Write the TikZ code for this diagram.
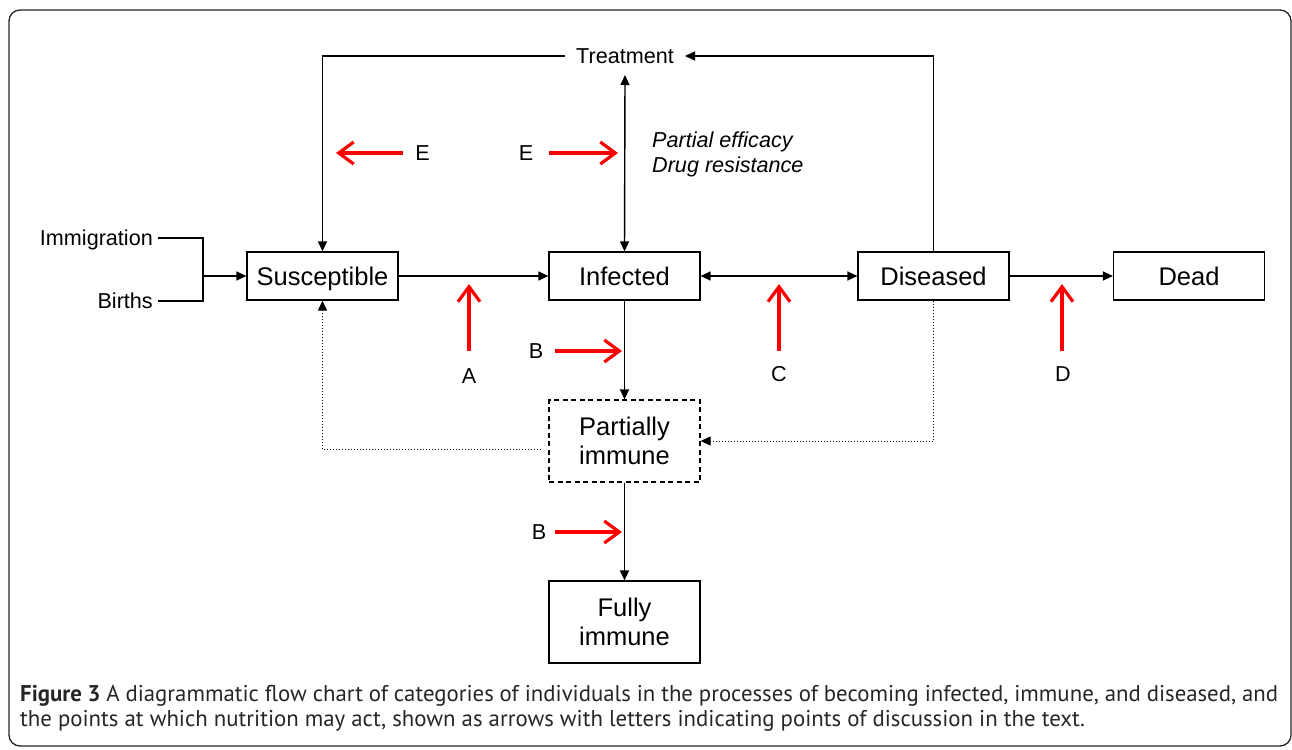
\documentclass[tikz,border=0pt]{standalone}
\usepackage{fontspec}
\setmainfont{Liberation Sans}
\newfontfamily\capfont{PT Sans}
\usetikzlibrary{arrows.meta}
\begin{document}
\begin{tikzpicture}[x=1pt,y=-1pt,
  boxbase/.style={draw,line width=1.2pt,minimum width=151pt,inner sep=0pt,
    font=\fontsize{25.5}{29}\selectfont,align=center},
  box/.style={boxbase,minimum height=48pt,text height=18.5pt,text depth=0pt},
  tallbox/.style={boxbase,minimum height=82pt},
  lbl/.style={font=\fontsize{21.6}{26}\selectfont,inner sep=0pt,text height=15.5pt,text depth=0pt},
  plain/.style={line width=1.4pt},
  flow/.style={line width=1.4pt,-{Triangle[length=10pt,width=9pt]}},
  dflow/.style={line width=1.4pt,{Triangle[length=10pt,width=9pt]}-{Triangle[length=10pt,width=9pt]}},
  dotflow/.style={line width=1pt,dotted,-{Triangle[length=10pt,width=9pt]}},
  nutr/.style={draw=red,line width=3.2pt,-{Straight Barb[length=15pt,width=22pt]}},
]
\useasboundingbox (0,0) rectangle (1292,749);
\draw[line width=1.3pt,draw=black!85,rounded corners=11pt] (9,10) rectangle (1291,746);

% main boxes
\node[box] (sus) at (322.5,276) {Susceptible};
\node[box] (inf) at (624.5,276) {Infected};
\node[box] (dis) at (933.5,276) {Diseased};
\node[box] (dead) at (1189,276) {Dead};
\node[tallbox,dash pattern=on 5pt off 3.5pt] (pim) at (624.5,441) {Partially\\immune};
\node[tallbox] (fim) at (624.5,622) {Fully\\immune};

% labels
\node[lbl,inner xsep=11pt] (treat) at (625,56) {Treatment};
\node[anchor=west,align=left,inner sep=0pt,font=\fontsize{21.6}{25}\selectfont\itshape] (pe) at (652,154) {Partial efficacy\\Drug resistance};
\node[lbl,anchor=east] (imm) at (153,238) {Immigration};
\node[lbl,anchor=east] (bir) at (153,301) {Births};

% inflow
\coordinate (j) at (203,276);
\draw[plain] ([xshift=5pt]imm.east) -| (j) |- ([xshift=5pt]bir.east);
\draw[flow] (j) -- (sus.west);

% treatment loop
\coordinate (ttop) at (625,75);
\draw[flow] (treat.west) -| (sus.north);
\draw[flow] (dis.north) |- (treat.east);
\draw[dflow] (inf.north) -- (ttop);

% main flows
\draw[flow] (sus.east) -- (inf.west);
\draw[dflow] (inf.east) -- (dis.west);
\draw[flow] (dis.east) -- (dead.west);
\draw[flow] (inf.south) -- (pim.north);
\draw[flow] (pim.south) -- (fim.north);

% dotted returns
\coordinate (pd) at (541,449);
\draw[dotflow] (pd) -| (sus.south);
\draw[dotflow] (dis.south) |- (pim.east);

% nutrition arrows
\node[lbl] (E1) at (422.5,153) {E};
\coordinate (e1s) at (403,153); \coordinate (e1t) at (336,153);
\draw[nutr] (e1s) -- (e1t);
\node[lbl] (E2) at (526,153) {E};
\coordinate (e2s) at (549,153); \coordinate (e2t) at (618,153);
\draw[nutr] (e2s) -- (e2t);

\node[lbl] (A) at (469,376) {A};
\coordinate (as) at (469,351); \coordinate (at) at (469,284);
\draw[nutr] (as) -- (at);

\node[lbl] (B1) at (536,351) {B};
\coordinate (b1s) at (555,351); \coordinate (b1t) at (622,351);
\draw[nutr] (b1s) -- (b1t);

\node[lbl] (C) at (779,374) {C};
\coordinate (cs) at (779,351); \coordinate (ct) at (779,284);
\draw[nutr] (cs) -- (ct);

\node[lbl] (D) at (1063,374) {D};
\coordinate (ds) at (1062,351); \coordinate (dt) at (1062,284);
\draw[nutr] (ds) -- (dt);

\node[lbl] (B2) at (539,532) {B};
\coordinate (b2s) at (555,532); \coordinate (b2t) at (622,532);
\draw[nutr] (b2s) -- (b2t);

% caption
\node[anchor=north west,inner sep=0pt,text width=1258pt,align=justify,
  font=\capfont\fontsize{22.8}{25.5}\selectfont,text=black!85] (cap) at (20,685)
  {\textbf{Figure 3} A diagrammatic flow chart of categories of individuals in the processes of becoming infected, immune, and diseased, and\linebreak
   the points at which nutrition may act, shown as arrows with letters indicating points of discussion in the text.};
\end{tikzpicture}
\end{document}
